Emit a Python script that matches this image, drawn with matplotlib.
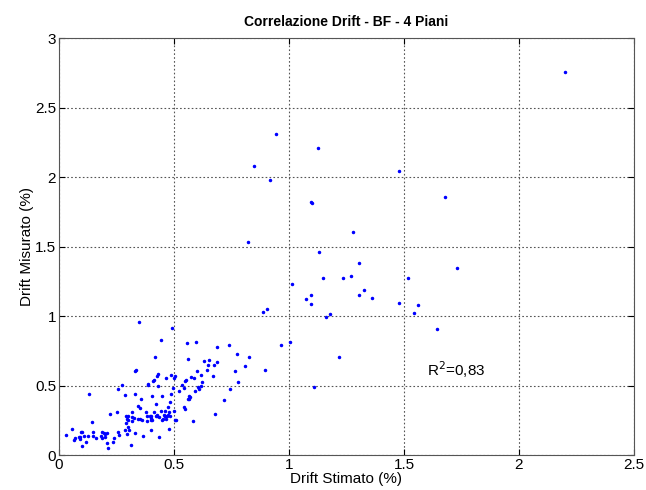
import matplotlib
matplotlib.use("Agg")
import matplotlib.pyplot as plt

plt.rcParams['font.family'] = ['Liberation Sans', 'DejaVu Sans']

# drift stimato (%) -- upper / sparse part
x_high = [2.200, 1.678, 1.732, 1.516, 1.559, 1.545, 1.642, 1.478, 1.478,
          0.945, 1.125, 0.846, 0.919, 1.097, 1.101, 1.280, 0.822, 1.129,
          1.306, 1.013, 1.149, 1.233, 1.268, 1.327, 1.306, 1.360, 1.094,
          1.074, 1.097, 0.906, 0.888, 1.162, 1.180, 0.965, 1.003, 0.894,
          1.219, 1.107]
# drift misurato (%)
y_high = [2.757, 1.857, 1.347, 1.275, 1.078, 1.023, 0.908, 2.040, 1.095,
          2.306, 2.210, 2.080, 1.980, 1.822, 1.815, 1.606, 1.531, 1.464,
          1.385, 1.227, 1.277, 1.277, 1.291, 1.186, 1.152, 1.133, 1.150,
          1.124, 1.090, 1.052, 1.030, 0.994, 1.013, 0.793, 0.812, 0.615,
          0.704, 0.486]

# dense cluster near the origin
x_low = [0.826, 0.809, 0.774, 0.764, 0.778, 0.743, 0.719, 0.680, 0.741, 0.688,
         0.597, 0.557, 0.443, 0.490, 0.349, 0.562, 0.417, 0.654, 0.630, 0.686,
         0.675, 0.646, 0.643, 0.617, 0.600, 0.574, 0.588, 0.551, 0.548, 0.533,
         0.523, 0.622, 0.617, 0.606, 0.590, 0.567, 0.562, 0.542, 0.548, 0.581,
         0.506, 0.499, 0.487, 0.488, 0.484, 0.473, 0.480, 0.484, 0.506, 0.478,
         0.464, 0.430, 0.424, 0.412, 0.387, 0.430, 0.404, 0.448, 0.423, 0.330,
         0.336, 0.275, 0.258, 0.288, 0.330, 0.357, 0.132, 0.220, 0.252, 0.316,
         0.380, 0.345, 0.354, 0.290, 0.300, 0.319, 0.295, 0.290, 0.302, 0.345,
         0.354, 0.362, 0.319, 0.381, 0.396, 0.420, 0.381, 0.403, 0.446, 0.465,
         0.460, 0.145, 0.058, 0.030, 0.070, 0.066, 0.087, 0.092, 0.096, 0.101,
         0.093, 0.110, 0.125, 0.098, 0.117, 0.148, 0.148, 0.162, 0.181, 0.187,
         0.195, 0.202, 0.207, 0.188, 0.200, 0.210, 0.212, 0.236, 0.239, 0.256,
         0.262, 0.288, 0.296, 0.303, 0.315, 0.331, 0.364, 0.398, 0.433, 0.670,
         0.543, 0.494, 0.607, 0.570, 0.565, 0.470, 0.474, 0.461, 0.451, 0.461,
         0.442, 0.427, 0.400, 0.411, 0.508, 0.428, 0.502, 0.455, 0.436, 0.399,
         0.399, 0.409, 0.386, 0.300, 0.328]
y_low = [0.704, 0.637, 0.728, 0.601, 0.522, 0.478, 0.397, 0.296, 0.790, 0.778,
         0.814, 0.807, 0.824, 0.917, 0.956, 0.694, 0.704, 0.685, 0.673, 0.668,
         0.646, 0.646, 0.610, 0.577, 0.603, 0.563, 0.553, 0.543, 0.531, 0.507,
         0.459, 0.522, 0.500, 0.490, 0.464, 0.428, 0.404, 0.347, 0.332, 0.246,
         0.567, 0.557, 0.577, 0.442, 0.383, 0.347, 0.313, 0.284, 0.250, 0.185,
         0.553, 0.586, 0.572, 0.539, 0.508, 0.495, 0.423, 0.423, 0.370, 0.603,
         0.613, 0.502, 0.476, 0.433, 0.440, 0.406, 0.440, 0.296, 0.308, 0.308,
         0.311, 0.351, 0.337, 0.279, 0.279, 0.275, 0.262, 0.230, 0.255, 0.256,
         0.262, 0.253, 0.246, 0.279, 0.279, 0.279, 0.246, 0.251, 0.251, 0.262,
         0.281, 0.240, 0.190, 0.142, 0.119, 0.110, 0.129, 0.118, 0.164, 0.164,
         0.129, 0.140, 0.140, 0.068, 0.095, 0.164, 0.140, 0.122, 0.140, 0.164,
         0.160, 0.152, 0.160, 0.120, 0.128, 0.088, 0.047, 0.095, 0.124, 0.168,
         0.144, 0.183, 0.148, 0.182, 0.073, 0.157, 0.137, 0.178, 0.132, 0.567,
         0.483, 0.483, 0.474, 0.420, 0.400, 0.279, 0.289, 0.281, 0.262, 0.315,
         0.315, 0.281, 0.269, 0.313, 0.253, 0.286, 0.320, 0.290, 0.270, 0.280,
         0.250, 0.536, 0.502, 0.205, 0.268]

x_all = x_high + x_low
y_all = y_high + y_low

fig = plt.figure(figsize=(6.46, 4.90), dpi=100)
ax = fig.add_axes([0.0913, 0.0714, 0.8901, 0.8510])

ax.plot(x_all, y_all, linestyle='none', marker='.', markersize=3, color=(0, 0, 1))

ax.set_xlim(0, 2.5)
ax.set_ylim(0, 3)
ax.set_xticks([0, 0.5, 1, 1.5, 2, 2.5])
ax.set_xticklabels(['0', '0.5', '1', '1.5', '2', '2.5'])
ax.set_yticks([0, 0.5, 1, 1.5, 2, 2.5, 3])
ax.set_yticklabels(['0', '0.5', '1', '1.5', '2', '2.5', '3'])

ax.grid(True, linestyle=(0, (1.5, 2)), color='#555555', linewidth=0.8)
ax.tick_params(direction='in', length=4, labelsize=11, top=True, right=True, pad=2)
for s in ax.spines.values():
    s.set_color('#555555')

ax.set_title('Correlazione Drift - BF - 4 Piani', fontsize=10, fontweight='bold', pad=9)
ax.set_xlabel('Drift Stimato (%)', fontsize=11, labelpad=0)
ax.set_ylabel('Drift Misurato (%)', fontsize=11, labelpad=1)

ax.text(1.6, 0.57, 'R$^2$=0,83', fontsize=11)

fig.savefig('out.png', dpi=100)
